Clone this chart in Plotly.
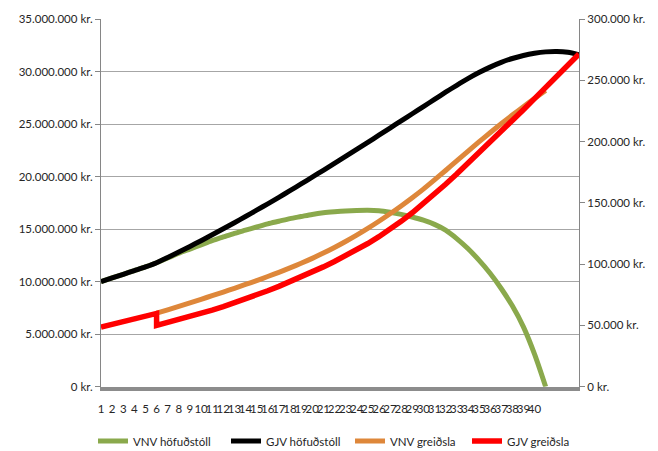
import plotly.graph_objects as go

# Year index on the category axis (labels only run to 40)
years = list(range(1, 45))
tick_labels = [str(i) for i in range(1, 41)]

# Principal, millions of kr. (left axis)
vnv_principal_m = [10.0, 10.35, 10.7, 11.05, 11.4, 11.8, 12.25, 12.7, 13.1, 13.5,
                   13.9, 14.25, 14.6, 14.9, 15.2, 15.5, 15.75, 16.0, 16.2, 16.4,
                   16.55, 16.65, 16.73, 16.78, 16.8, 16.75, 16.6, 16.4, 16.15, 15.85,
                   15.45, 14.9, 14.1, 13.15, 12.05, 10.8, 9.35, 7.7, 5.7, 3.1,
                   0.0]
gjv_principal_m = [10.0, 10.35, 10.7, 11.05, 11.4, 11.8, 12.3, 12.82, 13.35, 13.9,
                   14.46, 15.03, 15.61, 16.2, 16.8, 17.41, 18.03, 18.66, 19.3, 19.95,
                   20.6, 21.26, 21.92, 22.59, 23.26, 23.94, 24.62, 25.3, 25.98, 26.66,
                   27.35, 28.03, 28.69, 29.32, 29.9, 30.42, 30.87, 31.24, 31.53, 31.74,
                   31.87, 31.91, 31.83, 31.6]

# Monthly payment, thousands of kr. (right axis)
vnv_payment_years = list(range(6, 42))
vnv_payment_k = [60.0, 62.75, 65.55, 68.4, 71.3, 74.25, 77.25, 80.3, 83.4, 86.6,
                 89.9, 93.3, 96.9, 100.7, 104.7, 109.0, 113.6, 118.5, 123.7, 129.2,
                 135.0, 141.1, 147.5, 154.2, 161.2, 168.7, 176.4, 184.2, 192.0, 199.7,
                 207.2, 214.5, 221.6, 228.5, 235.2, 241.7]

gjv_payment_years_a = list(range(1, 7))
gjv_payment_k_a = [48.6, 50.8, 53.0, 55.2, 57.5, 59.8]
gjv_payment_years_b = list(range(6, 45))
gjv_payment_k_b = [50.0, 52.3, 54.7, 57.2, 59.8, 62.5, 65.35, 68.35, 71.5, 74.8,
                   78.25, 81.85, 85.6, 89.5, 93.55, 97.75, 102.15, 106.75, 111.6, 116.8,
                   122.4, 128.4, 134.9, 141.9, 149.3, 157.1, 165.2, 173.5, 182.0, 190.6,
                   199.3, 208.1, 217.0, 226.0, 235.0, 244.1, 253.2, 262.3, 271.4]

FONT = "Lato"
TXT = "#262626"
AXIS = "#868686"

fig = go.Figure()

fig.add_trace(go.Scatter(
    x=years[:len(vnv_principal_m)], y=[v * 1e6 for v in vnv_principal_m],
    mode="lines", name="VNV höfuðstóll",
    line=dict(color="#8AA94C", width=5, shape="spline", smoothing=0.8),
    yaxis="y", legend="legend"))
fig.add_trace(go.Scatter(
    x=years, y=[v * 1e6 for v in gjv_principal_m],
    mode="lines", name="GJV höfuðstóll",
    line=dict(color="#000000", width=5, shape="spline", smoothing=0.8),
    yaxis="y", legend="legend2"))
fig.add_trace(go.Scatter(
    x=vnv_payment_years, y=[v * 1e3 for v in vnv_payment_k],
    mode="lines", name="VNV greiðsla",
    line=dict(color="#DE873A", width=5, shape="spline", smoothing=0.8),
    yaxis="y2", legend="legend3"))
fig.add_trace(go.Scatter(
    x=gjv_payment_years_a + gjv_payment_years_b,
    y=[v * 1e3 for v in gjv_payment_k_a + gjv_payment_k_b],
    mode="lines", name="GJV greiðsla", line=dict(color="#FF0000", width=5.5),
    yaxis="y2", legend="legend4"))

W, H = 658, 451


def legend_at(px):
    return dict(x=px / W, xref="container", xanchor="left",
                y=1 - 441 / H, yref="container", yanchor="middle",
                orientation="h", bgcolor="rgba(0,0,0,0)", visible=True,
                font=dict(family=FONT, size=11.5, color=TXT), itemwidth=30)


fig.update_layout(
    width=W, height=H,
    margin=dict(l=101, r=74, t=12, b=64),
    paper_bgcolor="white", plot_bgcolor="white",
    font=dict(family=FONT, size=11.5, color=TXT),
    separators=",.",
    showlegend=True,
    xaxis=dict(range=[1, 44], tickmode="array", tickvals=list(range(1, 41)),
               ticktext=tick_labels, tickangle=0, showgrid=False, zeroline=False,
               showline=True, linecolor="#8C8C8C", linewidth=4, ticks="",
               ticklabelstandoff=8),
    yaxis=dict(range=[0, 35e6], tick0=0, dtick=5e6, tickformat=",d", ticksuffix=" kr.",
               showgrid=True, gridcolor="#A6A6A6", gridwidth=1, zeroline=False,
               showline=True, linecolor=AXIS, linewidth=1,
               ticks="outside", ticklen=5, tickcolor=AXIS),
    yaxis2=dict(range=[0, 3e5], tick0=0, dtick=5e4, tickformat=",d", ticksuffix=" kr.",
                overlaying="y", side="right", showgrid=False, zeroline=False,
                showline=True, linecolor=AXIS, linewidth=1,
                ticks="outside", ticklen=5, tickcolor=AXIS),
    legend=legend_at(93),
    legend2=legend_at(226),
    legend3=legend_at(350),
    legend4=legend_at(467),
)

fig.write_html("out.html")
